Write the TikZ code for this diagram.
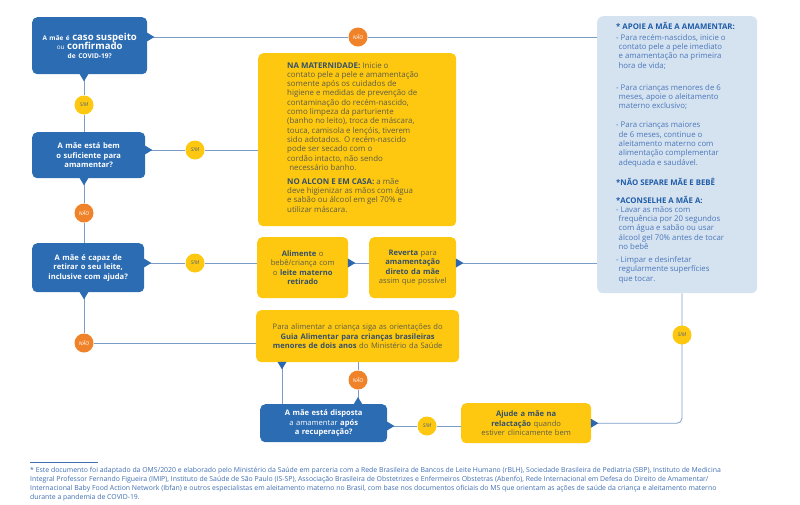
\documentclass[tikz,border=0pt]{standalone}
\usepackage{fontspec}
\setmainfont{Open Sans}
\usetikzlibrary{calc}
\pgfdeclarelayer{bg}
\pgfsetlayers{bg,main}
\definecolor{boxblue}{HTML}{2C6CB3}
\definecolor{yel}{HTML}{FDC80F}
\definecolor{org}{HTML}{F0832A}
\definecolor{lineblue}{HTML}{7C9CC8}
\definecolor{ptrblue}{HTML}{2D67AE}
\definecolor{lightbox}{HTML}{D5E2F0}
\definecolor{ytext}{HTML}{5F5D48}
\definecolor{ybold}{HTML}{36506B}
\definecolor{rtext}{HTML}{4A78BA}
\definecolor{rbold}{HTML}{1F5CA8}
\definecolor{simtext}{HTML}{55657A}
\definecolor{foot}{HTML}{3F6EB0}
\newcommand{\yb}[1]{\textbf{\color{ybold}#1}}
\newcommand{\rb}[1]{\textbf{\color{rbold}#1}}
\newcommand{\ind}{\hspace*{2.5pt}}
\tikzset{
  qbox/.style={fill=boxblue, rounded corners=5pt, text=white, font=\fontsize{7.6}{9.4}\selectfont\bfseries, align=center, anchor=north west, inner sep=0pt},
  ybox/.style={fill=yel, rounded corners=5pt, text=ytext, font=\fontsize{7.6}{9.4}\selectfont, align=center, anchor=north west, inner sep=0pt},
  ytxt/.style={text=ytext, font=\fontsize{7.9}{9.3}\selectfont, align=left, anchor=north west, inner sep=0pt},
  rtxt/.style={text=rtext, font=\fontsize{7.8}{9.3}\selectfont, align=left, anchor=north west, inner sep=0pt},
  conn/.style={draw=lineblue, line width=0.8pt},
  simc/.style={circle, fill=yel, minimum size=19pt, inner sep=0pt, font=\fontsize{5.2}{5}\selectfont\itshape, text=simtext},
  naoc/.style={circle, fill=org, minimum size=19pt, inner sep=0pt, font=\fontsize{5.2}{5}\selectfont\itshape, text=white},
  ptr/.pic={\fill (-0.5,-4.5) -- (7,0) -- (-0.5,4.5) -- cycle;}
}
\begin{document}
\begin{tikzpicture}[x=1pt,y=-1pt]
\useasboundingbox (0,0) rectangle (800,504);
% question boxes
\node[qbox, text width=115pt, minimum height=57pt] (b1) at (32,17)
  {{\fontsize{6.4}{8}\selectfont A mãe é} {\fontsize{9.6}{11}\selectfont caso suspeito}\\[-1pt]
   {\fontsize{6.4}{8}\selectfont\mdseries ou} {\fontsize{9.6}{11}\selectfont confirmado}\\[-1pt]
   {\fontsize{6.6}{8}\selectfont de COVID-19?}};
\node[qbox, text width=113pt, minimum height=46pt] (b2) at (32,132)
  {A mãe está bem\\o suficiente para\\amamentar?};
\node[qbox, text width=112pt, minimum height=49pt] (b3) at (32,243)
  {A mãe é capaz de\\retirar o seu leite,\\inclusive com ajuda?};
\node[qbox, text width=127pt, minimum height=38pt] (b4) at (260,404)
  {A mãe está disposta\\{\mdseries a amamentar} após\\a recuperação?};
% yellow boxes
\node[ybox, text width=198pt, minimum height=173pt] (bigy) at (258,53) {};
\node[ytxt] (bigyt) at (287,62)
  {\yb{NA MATERNIDADE:} Inicie o\\
   contato pele a pele e amamentação\\
   somente após os cuidados de\\
   higiene e medidas de prevenção de\\
   contaminação do recém-nascido,\\
   como limpeza da parturiente\\
   (banho no leito), troca de máscara,\\
   touca, camisola e lençóis, tiverem\\
   sido adotados. O recém-nascido\\
   pode ser secado com o\\
   cordão intacto, não sendo\\
   \ necessário banho.\\[4.7pt]
   \yb{NO ALCON E EM CASA:} a mãe\\
   deve higienizar as mãos com água\\
   e sabão ou álcool em gel 70\% e\\
   utilizar máscara.};
\node[ybox, text width=91pt, minimum height=61pt] (alim) at (257,237)
  {\yb{Alimente} o\\bebê/criança com\\o \yb{leite materno}\\\yb{retirado}};
\node[ybox, text width=87pt, minimum height=61pt] (rev) at (369,237)
  {\yb{Reverta} para\\\yb{amamentação}\\\yb{direto da mãe}\\assim que possível};
\node[ybox, text width=203pt, minimum height=52pt] (guia) at (256,310)
  {Para alimentar a criança siga as orientações do\\
   \yb{Guia Alimentar para crianças brasileiras}\\
   \yb{menores de dois anos} do Ministério da Saúde};
\node[ybox, text width=130pt, minimum height=40pt] (ajude) at (461,403)
  {\yb{Ajude a mãe na}\\\yb{relactação} quando\\estiver clinicamente bem};
% right info box
\node[fill=lightbox, rounded corners=6pt, anchor=north west, minimum width=160pt, minimum height=277pt, inner sep=0pt] (rbox) at (597,16) {};
\node[rtxt] (rboxt) at (616,22)
  {\rb{* APOIE A MÃE A AMAMENTAR:}\\[1.7pt]
   - Para recém-nascidos, inicie o\\
   \ind contato pele a pele imediato\\
   \ind e amamentação na primeira\\
   \ind hora de vida;\\[12.7pt]
   - Para crianças menores de 6\\
   \ind meses, apoie o aleitamento\\
   \ind materno exclusivo;\\[9.7pt]
   - Para crianças maiores\\
   \ind de 6 meses, continue o\\
   \ind aleitamento materno com\\
   \ind alimentação complementar\\
   \ind adequada e saudável.\\[10.7pt]
   \rb{*NÃO SEPARE MÃE E BEBÊ}\\[8.7pt]
   \rb{*ACONSELHE A MÃE A:}\\
   - Lavar as mãos com\\
   \ind frequência por 20 segundos\\
   \ind com água e sabão ou usar\\
   \ind álcool gel 70\% antes de tocar\\
   \ind no bebê\\[3.7pt]
   - Limpar e desinfetar\\
   \ind regularmente superfícies\\
   \ind que tocar.};
% decision circles
\node[naoc] (n1) at (358,37) {NÃO};
\node[simc] (s1) at (84,105) {SIM};
\node[simc] (s2) at (195,150) {SIM};
\node[naoc] (n2) at (84,213) {NÃO};
\node[simc] (s3) at (195,263) {SIM};
\node[naoc] (n3) at (84,343) {NÃO};
\node[naoc] (n4) at (358,380) {NÃO};
\node[simc] (s4) at (427,426) {SIM};
\node[simc] (s5) at (682,335) {SIM};
\coordinate (gx) at (282,380);
% connectors
\begin{pgfonlayer}{bg}
\draw[conn] (b1.east |- n1) -- (n1) -- (n1 -| rbox.west);
\draw[conn] (s1 |- b1.south) -- (s1) -- (s1 |- b2.north);
\draw[conn] (b2.east |- s2) -- (s2) -- (s2 -| bigy.west);
\draw[conn] (n2 |- b2.south) -- (n2) -- (n2 |- b3.north);
\draw[conn] (b3.east |- s3) -- (s3) -- (s3 -| alim.west);
\draw[conn] (alim.east |- s3) -- (s3 -| rev.west);
\draw[conn] (rev.east |- s3) -- (s3 -| rbox.west);
\draw[conn] (n3 |- b3.south) -- (n3) -- (n3 -| guia.west);
\draw[conn] (gx |- guia.south) -- (gx |- b4.north);
\draw[conn] (n4 |- guia.south) -- (n4) -- (n4 |- b4.north);
\draw[conn] (b4.east |- s4) -- (s4) -- (s4 -| ajude.west);
\draw[conn, rounded corners=5pt] (ajude.east) -| (s5.center) -- (s5 |- rbox.south);
\end{pgfonlayer}
% pointers
\pic[color=boxblue] at (b1.east |- n1) {ptr};
\pic[color=boxblue, rotate=-90] at (s1 |- b1.south) {ptr};
\pic[color=boxblue] at (b2.east |- s2) {ptr};
\pic[color=boxblue, rotate=-90] at (n2 |- b2.south) {ptr};
\pic[color=boxblue] at (b3.east |- s3) {ptr};
\pic[color=boxblue, rotate=-90] at (n3 |- b3.south) {ptr};
\pic[color=ptrblue] at (alim.east |- s3) {ptr};
\pic[color=ptrblue] at (rev.east |- s3) {ptr};
\pic[color=ptrblue, rotate=-90] at (gx |- guia.south) {ptr};
\pic[color=boxblue, rotate=90] at (n4 |- b4.north) {ptr};
\pic[color=boxblue] at (b4.east |- s4) {ptr};
\pic[color=ptrblue] at (ajude.east) {ptr};
% footnote
\draw[foot, line width=0.6pt] (30,462) -- (98,462);
\node[text=foot, font=\fontsize{6.9}{9}\selectfont, align=left, anchor=north west, inner sep=0pt] (fn) at (30,467)
  {* Este documento foi adaptado da OMS/2020 e elaborado pelo Ministério da Saúde em parceria com a Rede Brasileira de Bancos de Leite Humano (rBLH), Sociedade Brasileira de Pediatria (SBP), Instituto de Medicina\\
   Integral Professor Fernando Figueira (IMIP), Instituto de Saúde de São Paulo (IS-SP), Associação Brasileira de Obstetrizes e Enfermeiros Obstetras (Abenfo), Rede Internacional em Defesa do Direito de Amamentar/\\
   Internacional Baby Food Action Network (Ibfan) e outros especialistas em aleitamento materno no Brasil, com base nos documentos oficiais do MS que orientam as ações de saúde da criança e aleitamento materno\\
   durante a pandemia de COVID-19.};
\end{tikzpicture}
\end{document}
